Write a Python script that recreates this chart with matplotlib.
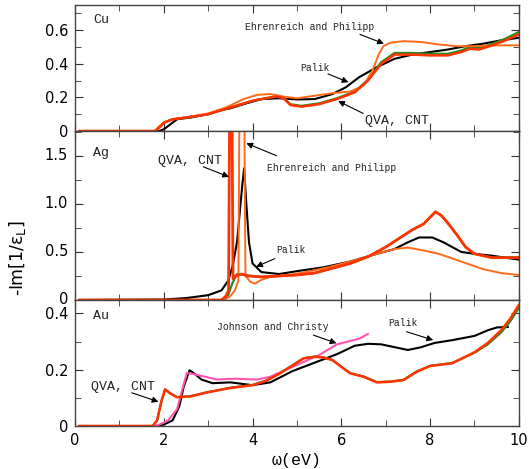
import matplotlib.pyplot as plt
from matplotlib.ticker import MultipleLocator, FuncFormatter
from matplotlib.transforms import ScaledTranslation

# ---- Cu ----
cu_palik_x = [0.1, 1.9, 2.0, 2.15, 2.3, 2.6, 3.0, 3.3, 3.5, 3.8, 4.2, 4.6, 5.0, 5.4, 5.8, 6.1, 6.4, 6.8, 7.2, 7.6, 8.0, 8.4, 8.8, 9.2, 9.6, 10.0]
cu_palik_y = [0, 0, 0.01, 0.04, 0.07, 0.08, 0.1, 0.125, 0.135, 0.16, 0.19, 0.195, 0.188, 0.19, 0.22, 0.26, 0.32, 0.38, 0.43, 0.455, 0.47, 0.485, 0.505, 0.52, 0.54, 0.555]
cu_qva_x = [0.1, 1.8, 1.9, 2.0, 2.2, 2.5, 3.0, 3.5, 4.0, 4.3, 4.55, 4.7, 4.85, 5.1, 5.5, 5.9, 6.3, 6.6, 6.9, 7.2, 7.6, 8.0, 8.4, 8.7, 8.9, 9.1, 9.4, 9.7, 10.0]
cu_qva_y = [0, 0, 0.02, 0.05, 0.07, 0.08, 0.1, 0.14, 0.18, 0.195, 0.205, 0.195, 0.155, 0.145, 0.16, 0.19, 0.23, 0.3, 0.4, 0.455, 0.455, 0.45, 0.45, 0.47, 0.49, 0.485, 0.51, 0.54, 0.575]
cu_cnt_x = [0.1, 1.8, 1.9, 2.0, 2.2, 2.5, 3.0, 3.5, 4.0, 4.3, 4.55, 4.7, 4.85, 5.1, 5.5, 5.9, 6.3, 6.6, 6.9, 7.2, 7.6, 8.0, 8.4, 8.7, 8.9, 9.1, 9.4, 9.7, 10.0]
cu_cnt_y = [0, 0, 0.02, 0.05, 0.07, 0.08, 0.1, 0.14, 0.18, 0.195, 0.21, 0.2, 0.16, 0.15, 0.165, 0.195, 0.235, 0.305, 0.41, 0.465, 0.465, 0.46, 0.46, 0.48, 0.5, 0.495, 0.52, 0.55, 0.59]
cu_ep_x = [0.1, 1.8, 1.9, 2.1, 2.3, 2.7, 3.0, 3.4, 3.8, 4.1, 4.4, 4.7, 5.0, 5.4, 5.8, 6.2, 6.5, 6.7, 6.85, 6.95, 7.1, 7.4, 7.8, 8.2, 8.6, 9.0, 9.5, 10.0]
cu_ep_y = [0, 0, 0.03, 0.06, 0.075, 0.09, 0.105, 0.14, 0.19, 0.215, 0.22, 0.205, 0.195, 0.21, 0.225, 0.235, 0.27, 0.36, 0.46, 0.505, 0.525, 0.535, 0.53, 0.515, 0.505, 0.505, 0.51, 0.51]

# ---- Ag ----
ag_palik_x = [0.1, 2.0, 2.5, 3.0, 3.3, 3.45, 3.55, 3.65, 3.72, 3.77, 3.81, 3.86, 3.92, 4.0, 4.2, 4.6, 5.0, 5.6, 6.2, 6.8, 7.2, 7.5, 7.75, 8.05, 8.3, 8.5, 8.7, 9.0, 9.4, 9.7, 10.0]
ag_palik_y = [0, 0.005, 0.02, 0.05, 0.1, 0.2, 0.35, 0.6, 0.95, 1.2, 1.37, 1.0, 0.6, 0.38, 0.29, 0.27, 0.3, 0.34, 0.4, 0.48, 0.53, 0.6, 0.65, 0.65, 0.6, 0.55, 0.5, 0.48, 0.46, 0.44, 0.42]
ag_qva_x = [0.1, 3.3, 3.4, 3.46, 3.49, 3.53, 3.56, 3.62, 3.75, 3.9, 4.2, 4.6, 5.0, 5.4, 5.8, 6.2, 6.6, 7.0, 7.3, 7.6, 7.85, 8.0, 8.12, 8.25, 8.4, 8.6, 8.8, 9.0, 9.4, 10.0]
ag_qva_y = [0, 0, 0.04, 0.1, 2.5, 2.5, 0.22, 0.25, 0.27, 0.25, 0.24, 0.25, 0.26, 0.28, 0.33, 0.38, 0.45, 0.55, 0.64, 0.73, 0.79, 0.86, 0.915, 0.88, 0.8, 0.68, 0.55, 0.48, 0.44, 0.44]
ag_cnt_x = [0.1, 3.3, 3.45, 3.55, 3.65, 3.8, 4.2, 4.6, 5.0, 5.4, 5.8, 6.2, 6.6, 7.0, 7.3, 7.6, 7.85, 8.0, 8.12, 8.25, 8.4, 8.6, 8.8, 9.0, 9.4, 10.0]
ag_cnt_y = [0, 0, 0.05, 0.18, 0.27, 0.26, 0.24, 0.25, 0.26, 0.28, 0.33, 0.38, 0.45, 0.55, 0.64, 0.73, 0.79, 0.86, 0.92, 0.88, 0.8, 0.68, 0.55, 0.48, 0.44, 0.445]
ag_ep_x = [0.1, 3.35, 3.5, 3.6, 3.68, 3.72, 3.80, 3.84, 3.95, 4.05, 4.2, 4.4, 4.8, 5.2, 5.7, 6.2, 6.8, 7.2, 7.5, 7.8, 8.2, 8.7, 9.2, 9.6, 10.0]
ag_ep_y = [0, 0, 0.04, 0.1, 0.2, 3.0, 3.0, 0.25, 0.19, 0.17, 0.21, 0.24, 0.26, 0.29, 0.34, 0.4, 0.48, 0.53, 0.545, 0.52, 0.48, 0.4, 0.32, 0.28, 0.26]

# ---- Au ----
au_palik_x = [0.1, 1.8, 2.0, 2.2, 2.35, 2.45, 2.58, 2.7, 2.85, 3.1, 3.5, 4.0, 4.4, 4.9, 5.4, 5.9, 6.3, 6.6, 6.9, 7.2, 7.5, 7.8, 8.1, 8.5, 9.0, 9.3, 9.5, 9.75]
au_palik_y = [0, 0, 0.005, 0.02, 0.07, 0.14, 0.198, 0.185, 0.165, 0.152, 0.155, 0.145, 0.155, 0.195, 0.225, 0.255, 0.285, 0.292, 0.29, 0.28, 0.27, 0.28, 0.295, 0.305, 0.32, 0.34, 0.35, 0.352]
au_jc_x = [1.8, 1.9, 2.1, 2.3, 2.4, 2.52, 2.65, 2.85, 3.2, 3.6, 4.1, 4.4, 4.9, 5.5, 5.9, 6.2, 6.4, 6.6]
au_jc_y = [0, 0.005, 0.02, 0.06, 0.12, 0.188, 0.185, 0.178, 0.165, 0.168, 0.165, 0.175, 0.21, 0.252, 0.29, 0.302, 0.31, 0.327]
au_qva_x = [0.1, 1.75, 1.85, 1.95, 2.03, 2.15, 2.3, 2.6, 3.0, 3.5, 4.0, 4.3, 4.6, 4.9, 5.15, 5.4, 5.6, 5.8, 6.0, 6.2, 6.5, 6.8, 7.1, 7.4, 7.7, 8.0, 8.5, 9.0, 9.3, 9.6, 9.8, 10.0]
au_qva_y = [0, 0, 0.02, 0.09, 0.13, 0.115, 0.102, 0.105, 0.12, 0.135, 0.145, 0.16, 0.185, 0.215, 0.24, 0.246, 0.243, 0.234, 0.21, 0.187, 0.175, 0.155, 0.157, 0.163, 0.193, 0.213, 0.223, 0.262, 0.295, 0.34, 0.38, 0.43]
au_cnt_x = au_qva_x
au_cnt_y = [0, 0, 0.02, 0.09, 0.13, 0.116, 0.103, 0.106, 0.121, 0.136, 0.146, 0.161, 0.186, 0.216, 0.241, 0.247, 0.244, 0.235, 0.211, 0.188, 0.176, 0.156, 0.158, 0.164, 0.194, 0.214, 0.224, 0.26, 0.29, 0.332, 0.37, 0.42]

RED = '#ff3300'
ORANGE = '#ff6a1a'
GREEN = '#1f8a1f'
PINK = '#ff55b0'
MONO = ['Liberation Mono', 'DejaVu Sans Mono']

plt.rcParams['font.family'] = ['DejaVu Sans']
plt.rcParams['font.size'] = 10.5

fig = plt.figure(figsize=(5.30, 4.69), dpi=100)
gs = fig.add_gridspec(3, 1, height_ratios=[126, 169, 126], hspace=0)
fig.subplots_adjust(left=0.1415, right=0.979, top=0.9893, bottom=0.0917)
axes = [fig.add_subplot(gs[i]) for i in range(3)]


def zero_fmt(v, pos):
    return '0' if abs(v) < 1e-9 else f'{v:.1f}'


def style(ax, ymax, ymaj, ymin):
    ax.set_xlim(0, 10)
    ax.set_ylim(0, ymax)
    ax.xaxis.set_major_locator(MultipleLocator(2))
    ax.xaxis.set_minor_locator(MultipleLocator(1))
    ax.yaxis.set_major_locator(MultipleLocator(ymaj))
    ax.yaxis.set_minor_locator(MultipleLocator(ymin))
    ax.yaxis.set_major_formatter(FuncFormatter(zero_fmt))
    ax.tick_params(which='both', direction='in', top=True, right=True, color='#333333')
    ax.tick_params(which='major', length=6, labelsize=10.5, pad=5)
    ax.tick_params(which='minor', length=4)
    for s in ax.spines.values():
        s.set_color('#444444')
        s.set_linewidth(1.0)


def nudge(ax, value, dy_pts):
    # shift one y tick label up/down a little so neighbouring panels don't collide
    for tick in ax.yaxis.get_major_ticks():
        if abs(tick.get_loc() - value) < 1e-6:
            lab = tick.label1
            lab.set_transform(lab.get_transform() + ScaledTranslation(0, dy_pts / 72, fig.dpi_scale_trans))


def note(ax, txt, tx, ty, size=7):
    ax.text(tx, ty, txt, family=MONO, fontsize=size, color='#222222')


def arrow(ax, start, end):
    ax.annotate('', xy=end, xytext=start,
                arrowprops=dict(arrowstyle='-|>', color='black', lw=0.8,
                                mutation_scale=9, shrinkA=0, shrinkB=0))


# Cu
ax = axes[0]
ax.plot(cu_palik_x, cu_palik_y, color='black', lw=1.5)
ax.plot(cu_cnt_x, cu_cnt_y, color=GREEN, lw=1.5)
ax.plot(cu_ep_x, cu_ep_y, color=ORANGE, lw=1.4)
ax.plot(cu_qva_x, cu_qva_y, color=RED, lw=1.8)
style(ax, 0.75, 0.2, 0.1)
ax.tick_params(labelbottom=False)
note(ax, 'Cu', 0.4, 0.64, 9.5)
note(ax, 'Ehrenreich and Philipp', 3.84, 0.6)
arrow(ax, (6.42, 0.575), (6.96, 0.52))
note(ax, 'Palik', 5.08, 0.36)
arrow(ax, (5.7, 0.34), (6.16, 0.29))
note(ax, 'QVA, CNT', 6.53, 0.04, 9.5)
arrow(ax, (6.49, 0.105), (5.93, 0.178))

# Ag
ax = axes[1]
ax.plot(ag_palik_x, ag_palik_y, color='black', lw=1.5)
ax.plot(ag_cnt_x, ag_cnt_y, color=GREEN, lw=1.5)
ax.plot(ag_ep_x, ag_ep_y, color=ORANGE, lw=1.4)
ax.plot(ag_qva_x, ag_qva_y, color=RED, lw=2.0)
style(ax, 1.757, 0.5, 0.25)
ax.tick_params(labelbottom=False)
nudge(ax, 0.0, 1.5)
note(ax, 'Ag', 0.4, 1.5, 9.5)
note(ax, 'QVA, CNT', 1.87, 1.41, 9.5)
arrow(ax, (2.89, 1.385), (3.47, 1.28))
note(ax, 'Ehrenreich and Philipp', 4.32, 1.34)
arrow(ax, (4.54, 1.5), (3.86, 1.63))
note(ax, 'Palik', 4.53, 0.49)
arrow(ax, (4.5, 0.43), (4.08, 0.345))
ax.set_ylabel('-Im[1/ε$_\\mathrm{L}$]', fontsize=12.5)
ax.yaxis.set_label_coords(-0.105, 0.25)

# Au
ax = axes[2]
ax.plot(au_palik_x, au_palik_y, color='black', lw=1.5)
ax.plot(au_jc_x, au_jc_y, color=PINK, lw=1.5)
ax.plot(au_cnt_x, au_cnt_y, color=GREEN, lw=1.5)
ax.plot(au_qva_x, au_qva_y, color=RED, lw=1.8)
style(ax, 0.4476, 0.2, 0.1)
nudge(ax, 0.4, -1.5)
note(ax, 'Au', 0.4, 0.38, 9.5)
note(ax, 'Johnson and Christy', 3.2, 0.34)
arrow(ax, (5.37, 0.323), (5.89, 0.294))
note(ax, 'Palik', 7.05, 0.355)
arrow(ax, (7.47, 0.335), (8.07, 0.305))
note(ax, 'QVA, CNT', 0.37, 0.128, 9.5)
arrow(ax, (1.28, 0.118), (1.88, 0.086))
ax.set_xlabel('ω(eV)', family=MONO, fontsize=12, labelpad=4)

fig.savefig('out.png', dpi=100)
